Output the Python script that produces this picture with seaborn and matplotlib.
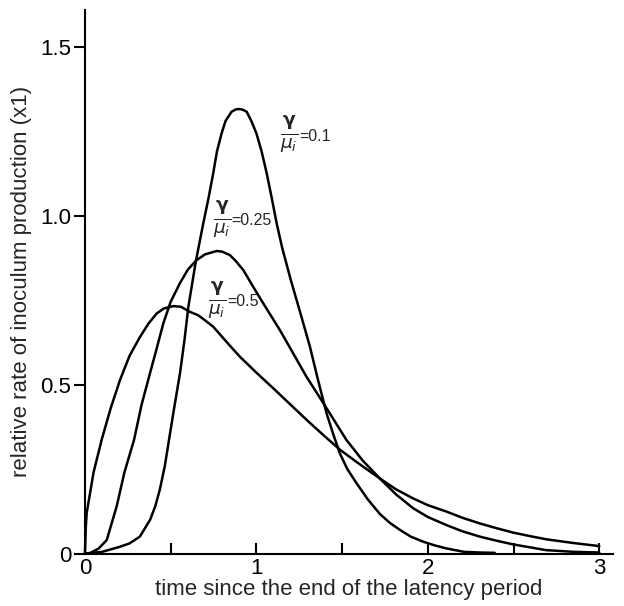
import pandas as pd
import matplotlib
matplotlib.use("Agg")
import matplotlib.pyplot as plt
import seaborn as sns

# curves (time, relative rate)
t_01 = [0.0, 0.1, 0.204, 0.26, 0.32, 0.38, 0.41, 0.437, 0.466, 0.49, 0.52, 0.554,
        0.58, 0.603, 0.645, 0.69, 0.72, 0.748, 0.77, 0.797, 0.82, 0.855, 0.88, 0.9,
        0.92, 0.943, 0.97, 1.0, 1.03, 1.06, 1.09, 1.118, 1.15, 1.2, 1.26, 1.312,
        1.36, 1.409, 1.45, 1.487, 1.53, 1.584, 1.65, 1.72, 1.78, 1.837, 1.9, 1.973,
        2.04, 2.109, 2.21, 2.3, 2.39]
r_01 = [0.0, 0.005, 0.02, 0.03, 0.05, 0.1, 0.14, 0.19, 0.26, 0.336, 0.43, 0.533,
        0.63, 0.73, 0.86, 0.977, 1.05, 1.125, 1.19, 1.243, 1.28, 1.307, 1.314, 1.315,
        1.313, 1.307, 1.28, 1.243, 1.19, 1.125, 1.05, 0.977, 0.905, 0.81, 0.705, 0.612,
        0.512, 0.415, 0.35, 0.296, 0.25, 0.208, 0.16, 0.117, 0.09, 0.07, 0.05, 0.035,
        0.024, 0.015, 0.005, 0.003, 0.002]

t_025 = [0.0, 0.025, 0.08, 0.127, 0.185, 0.23, 0.286, 0.33, 0.379, 0.42, 0.457, 0.5,
         0.554, 0.6, 0.651, 0.7, 0.768, 0.8, 0.845, 0.88, 0.923, 0.98, 1.04, 1.137,
         1.292, 1.409, 1.525, 1.62, 1.72, 1.814, 1.914, 2.0, 2.109, 2.2, 2.303, 2.4,
         2.497, 2.69, 2.85, 3.0]
r_025 = [0.0, 0.0, 0.015, 0.04, 0.14, 0.24, 0.336, 0.44, 0.533, 0.61, 0.681, 0.745,
         0.80, 0.84, 0.868, 0.885, 0.895, 0.893, 0.883, 0.865, 0.839, 0.79, 0.74, 0.661,
         0.523, 0.43, 0.336, 0.275, 0.222, 0.175, 0.134, 0.108, 0.084, 0.066, 0.05, 0.038,
         0.027, 0.01, 0.005, 0.003]

t_05 = [0.0, 0.005, 0.01, 0.05, 0.097, 0.15, 0.204, 0.26, 0.32, 0.37, 0.418, 0.46,
        0.515, 0.56, 0.612, 0.66, 0.7, 0.748, 0.845, 0.904, 1.0, 1.1, 1.2, 1.3, 1.4,
        1.49, 1.6, 1.72, 1.814, 1.914, 2.0, 2.109, 2.2, 2.303, 2.4, 2.497, 2.6, 2.692,
        2.85, 3.0]
r_05 = [0.0, 0.08, 0.12, 0.24, 0.336, 0.43, 0.513, 0.585, 0.64, 0.68, 0.71, 0.725,
        0.732, 0.73, 0.715, 0.705, 0.69, 0.671, 0.615, 0.582, 0.535, 0.488, 0.44, 0.392,
        0.346, 0.306, 0.265, 0.222, 0.19, 0.163, 0.143, 0.124, 0.106, 0.089, 0.075,
        0.062, 0.051, 0.042, 0.031, 0.022]

ratios = ["0.1", "0.25", "0.5"]

df = pd.concat([
    pd.DataFrame({"t": t_01, "rate": r_01, "ratio": "0.1"}),
    pd.DataFrame({"t": t_025, "rate": r_025, "ratio": "0.25"}),
    pd.DataFrame({"t": t_05, "rate": r_05, "ratio": "0.5"}),
])

sns.set_style("ticks")
plt.rcParams["font.family"] = ["Liberation Sans", "DejaVu Sans"]
plt.rcParams["mathtext.fontset"] = "dejavusans"

fig = plt.figure(figsize=(6.24, 6.06), dpi=100)
ax = fig.add_axes([0.1362, 0.0866, 0.8462, 0.8969])

sns.lineplot(data=df, x="t", y="rate", hue="ratio", palette=["black"] * 3,
             estimator=None, sort=False, linewidth=1.8, legend=False, ax=ax,
             clip_on=False)

ax.set_xlim(0, 3.08)
ax.set_ylim(0, 1.608)
sns.despine(ax=ax)
for s in ["left", "bottom"]:
    ax.spines[s].set_linewidth(1.5)
    ax.spines[s].set_color("black")

ax.set_xticks([0, 0.5, 1, 1.5, 2, 2.5, 3])
ax.set_xticklabels(["0", "", "1", "", "2", "", "3"])
ax.set_yticks([0, 0.5, 1.0, 1.5])
ax.set_yticklabels(["0", "0.5", "1.0", "1.5"])
ax.tick_params(axis="x", direction="in", length=8, width=1.5, pad=3, labelsize=16,
               colors="black")
ax.tick_params(axis="y", direction="out", length=8, width=1.5, pad=2, labelsize=16,
               colors="black")

ax.set_xlabel("time since the end of the latency period", fontsize=16, labelpad=0)
ax.set_ylabel("relative rate of inoculum production (x1)", fontsize=16, labelpad=6)

# curve labels
label_pos = {"0.1": (1.14, 1.24), "0.25": (0.745, 0.99), "0.5": (0.72, 0.75)}
for r in ratios:
    x, y = label_pos[r]
    ax.text(x, y, r"$\frac{\mathbf{\gamma}}{\mu_i}$", fontsize=19, va="center",
            ha="left")
    ax.text(x + 0.11, y - 0.005, "=" + r, fontsize=11.5, va="center", ha="left")

fig.savefig("out.png", dpi=100)
